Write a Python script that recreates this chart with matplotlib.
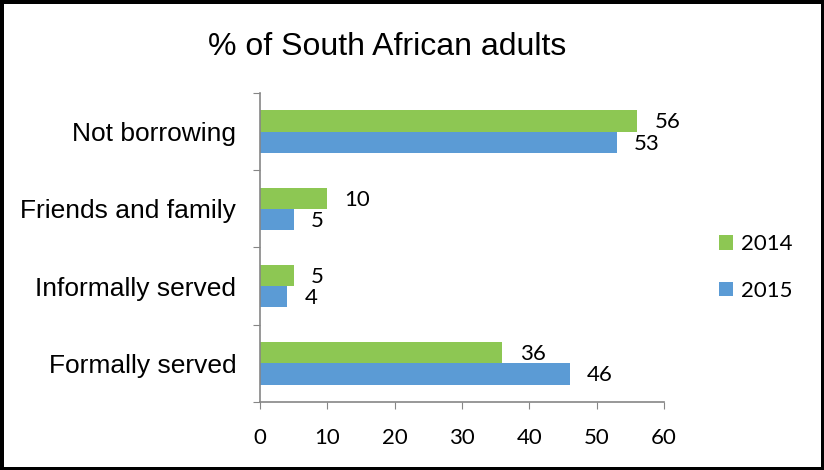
import matplotlib.pyplot as plt
import numpy as np

categories = ["Not borrowing", "Friends and family", "Informally served", "Formally served"]
pct_2014 = [56, 10, 5, 36]
pct_2015 = [53, 5, 4, 46]

green = "#8DC753"
blue = "#5B9BD5"
grey = "#868686"

fig = plt.figure(figsize=(8.24, 4.70), dpi=100, edgecolor="black", linewidth=5)
ax = fig.add_axes([0.3155, 0.1447, 0.4903, 0.6575])

y = np.arange(len(categories))
h = 0.275
b14 = ax.barh(y - h / 2, pct_2014, height=h, color=green, label="2014")
b15 = ax.barh(y + h / 2, pct_2015, height=h, color=blue, label="2015")

for bars in (b14, b15):
    for bar in bars:
        w = bar.get_width()
        ax.annotate(str(w), (w, bar.get_y() + bar.get_height() / 2),
                    xytext=(12.5, -1), textcoords="offset points",
                    ha="left", va="center", fontsize=16, family="Lato")

ax.set_xlim(0, 60)
ax.set_ylim(3.5, -0.5)
ax.set_xticks(range(0, 61, 10))
ax.tick_params(axis="x", direction="out", length=5, color=grey, labelsize=16, pad=14)
for lab in ax.get_xticklabels():
    lab.set_family("Lato")

# category boundaries get tick marks, names sit between them
ax.set_yticks(np.arange(-0.5, 4, 1))
ax.set_yticklabels([])
ax.tick_params(axis="y", which="major", direction="out", length=5, color=grey)
ax.set_yticks(y, minor=True)
ax.set_yticklabels(categories, minor=True, family="Liberation Sans", fontsize=19)
ax.tick_params(axis="y", which="minor", length=0, pad=17)

for side in ("top", "right"):
    ax.spines[side].set_visible(False)
for side in ("left", "bottom"):
    ax.spines[side].set_color(grey)
    ax.spines[side].set_linewidth(1.2)

fig.text(0.47, 0.9, "% of South African adults", ha="center", va="center",
         fontsize=23, family="Liberation Sans")

fig.legend(handles=[b14, b15], loc="center left", bbox_to_anchor=(0.848, 0.431),
           frameon=False, handlelength=0.63, handleheight=0.63, handletextpad=0.35,
           labelspacing=1.2, prop={"family": "Lato", "size": 16})

fig.savefig("out.png", dpi=100)
